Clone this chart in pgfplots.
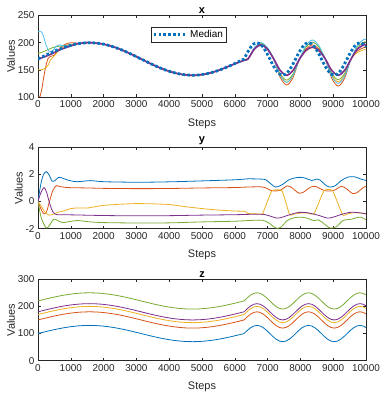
\documentclass[border=0pt]{standalone}
\usepackage{fontspec}
\setmainfont{Liberation Sans}
\usepackage{pgfplots}
\pgfplotsset{compat=1.18}
\usepackage{pgfplotstable}

\definecolor{c1}{rgb}{0,0.447,0.741}
\definecolor{c2}{rgb}{0.85,0.325,0.098}
\definecolor{c3}{rgb}{0.929,0.694,0.125}
\definecolor{c4}{rgb}{0.494,0.184,0.556}
\definecolor{c5}{rgb}{0.466,0.674,0.188}
\definecolor{c6}{rgb}{0.301,0.745,0.933}
\definecolor{axgray}{rgb}{0.15,0.15,0.15}

% z signals (also: z3 column equals the x median)
\pgfplotstableread{
t z1 z2 z3 z4 z5
0 100 150 170 180 220
196 105.9 155.9 175.9 185.9 225.9
393 111.5 161.5 181.5 191.5 231.5
589 116.7 166.7 186.7 196.7 236.7
785 121.2 171.2 191.2 201.2 241.2
982 124.9 174.9 194.9 204.9 244.9
1178 127.7 177.7 197.7 207.7 247.7
1374 129.4 179.4 199.4 209.4 249.4
1571 130 180 200 210 250
1767 129.4 179.4 199.4 209.4 249.4
1963 127.7 177.7 197.7 207.7 247.7
2160 124.9 174.9 194.9 204.9 244.9
2356 121.2 171.2 191.2 201.2 241.2
2553 116.7 166.7 186.7 196.7 236.7
2749 111.5 161.5 181.5 191.5 231.5
2945 105.9 155.9 175.9 185.9 225.9
3142 100 150 170 180 220
3338 94.1 144.1 164.1 174.1 214.1
3534 88.5 138.5 158.5 168.5 208.5
3731 83.3 133.3 153.3 163.3 203.3
3927 78.8 128.8 148.8 158.8 198.8
4123 75.1 125.1 145.1 155.1 195.1
4320 72.3 122.3 142.3 152.3 192.3
4516 70.6 120.6 140.6 150.6 190.6
4712 70 120 140 150 190
4909 70.6 120.6 140.6 150.6 190.6
5105 72.3 122.3 142.3 152.3 192.3
5301 75.1 125.1 145.1 155.1 195.1
5498 78.8 128.8 148.8 158.8 198.8
5694 83.3 133.3 153.3 163.3 203.3
5890 88.5 138.5 158.5 168.5 208.5
6087 94.1 144.1 164.1 174.1 214.1
6283 100 150 170 180 220
6381 111.5 161.5 181.5 191.5 231.5
6479 121.2 171.2 191.2 201.2 241.2
6578 127.7 177.7 197.7 207.7 247.7
6676 130 180 200 210 250
6774 127.7 177.7 197.7 207.7 247.7
6872 121.2 171.2 191.2 201.2 241.2
6970 111.5 161.5 181.5 191.5 231.5
7068 100 150 170 180 220
7167 88.5 138.5 158.5 168.5 208.5
7265 78.8 128.8 148.8 158.8 198.8
7363 72.3 122.3 142.3 152.3 192.3
7461 70 120 140 150 190
7559 72.3 122.3 142.3 152.3 192.3
7657 78.8 128.8 148.8 158.8 198.8
7756 88.5 138.5 158.5 168.5 208.5
7854 100 150 170 180 220
7952 111.5 161.5 181.5 191.5 231.5
8050 121.2 171.2 191.2 201.2 241.2
8148 127.7 177.7 197.7 207.7 247.7
8246 130 180 200 210 250
8345 127.7 177.7 197.7 207.7 247.7
8443 121.2 171.2 191.2 201.2 241.2
8541 111.5 161.5 181.5 191.5 231.5
8639 100 150 170 180 220
8737 88.5 138.5 158.5 168.5 208.5
8835 78.8 128.8 148.8 158.8 198.8
8934 72.3 122.3 142.3 152.3 192.3
9032 70 120 140 150 190
9130 72.3 122.3 142.3 152.3 192.3
9228 78.8 128.8 148.8 158.8 198.8
9326 88.5 138.5 158.5 168.5 208.5
9424 100 150 170 180 220
9523 111.5 161.5 181.5 191.5 231.5
9621 121.2 171.2 191.2 201.2 241.2
9719 127.7 177.7 197.7 207.7 247.7
9817 130 180 200 210 250
9915 127.7 177.7 197.7 207.7 247.7
10000 122.3 172.3 192.3 202.3 242.3
}\ztab

\pgfplotsset{mstyle/.style={
  width=328bp, height=81.5bp, scale only axis,
  xmin=0, xmax=10000,
  xtick={0,1000,2000,3000,4000,5000,6000,7000,8000,9000,10000},
  scaled x ticks=false, scaled y ticks=false,
  /pgf/number format/1000 sep={},
  /pgf/number format/assume math mode=true,
  tick label style={font=\fontsize{10}{12}\selectfont, color=axgray},
  label style={font=\fontsize{11}{13}\selectfont, color=axgray},
  xlabel style={yshift=-4bp},
  ylabel style={yshift=-4bp},
  title style={font=\fontsize{11}{13}\selectfont\bfseries, color=black, yshift=-7.5bp},
  axis line style={axgray, line width=0.5bp},
  tick style={axgray, line width=0.5bp},
  major tick length=3bp,
  xlabel={Steps}, ylabel={Values},
  every axis plot/.append style={line width=0.8bp},
  axis background/.style={fill=white},
}}

\begin{document}
\begin{tikzpicture}
\path[use as bounding box] (0bp,0bp) rectangle (389bp,396bp);

% ---------------- x ----------------
\begin{axis}[mstyle, at={(38bp,299bp)}, anchor=south west,
  title={x}, ymin=100, ymax=250, ytick={100,150,200,250},
  legend style={at={(0.345,0.857)}, anchor=north west, draw=axgray,
    line width=0.5bp, font=\fontsize{10}{12}\selectfont, text=black,
    inner xsep=1bp, inner ysep=1bp},
  legend image code/.code={\draw[#1] (0bp,0bp) -- (33bp,0bp);}]
\addplot[c2, smooth, forget plot] coordinates {
(0,100) (60,101) (120,116) (200,145) (300,170) (400,175) (500,177) (600,185) (800,196) (1000,200) (1200,199) (1374,199.4) (1571,200)
(1963,197.7) (2356,191.2) (2749,181.5) (3142,170) (3534,158.3) (3927,148.4) (4320,141.6) (4712,139) (5105,141.6) (5498,148.4) (5890,158.3) (6283,167.5)
(6403,171) (6599,188.4) (6796,196) (6992,188.4) (7188,170) (7385,136.1) (7581,122) (7777,136.1) (7974,170) (8170,188.4) (8366,196) (8563,188.4) (8759,170) (8955,134.6) (9152,120) (9348,134.6) (9545,170) (9741,184.8) (9937,191) (10000,190.5)};
\addplot[c3, smooth, forget plot] coordinates {
(0,150) (100,150) (200,152) (300,158) (400,170) (500,176) (600,183) (700,190) (850,195) (1000,197) (1200,198) (1374,199.4) (1571,200)
(1963,197.7) (2356,191.2) (2749,181.5) (3142,170) (3534,158.5) (3927,148.8) (4320,142.3) (4712,140) (5105,142.3) (5498,148.8) (5890,158.5) (6283,167.5)
(6403,170) (6599,189.1) (6796,197) (6992,189.1) (7188,170) (7385,139.6) (7581,127) (7777,139.6) (7974,170) (8170,184.8) (8366,191) (8563,184.8) (8759,170) (8955,140.3) (9152,128) (9348,140.3) (9545,170) (9741,182) (9937,187) (10000,186.5)};
\addplot[c5, smooth, forget plot] coordinates {
(0,180) (150,183) (300,187) (450,191) (600,193) (800,194.5) (1000,196) (1200,198) (1374,199.4) (1571,200)
(1963,197.7) (2356,191.2) (2749,181.5) (3142,170) (3534,158.5) (3927,148.8) (4320,142.3) (4712,140) (5105,142.3) (5498,148.8) (5890,158.5) (6283,167.5)
(6403,170) (6599,190.5) (6796,199) (6992,190.5) (7188,170) (7385,142.4) (7581,131) (7777,142.4) (7974,170) (8170,191.9) (8366,201) (8563,191.9) (8759,170) (8955,143.1) (9152,132) (9348,143.1) (9545,170) (9741,191.9) (9937,201) (10000,200.5)};
\addplot[c6, smooth, forget plot] coordinates {
(0,220) (80,221) (150,215) (250,195) (350,183) (450,185) (550,193) (650,196) (800,194) (1000,195) (1200,198) (1374,200) (1571,201)
(1963,198.2) (2356,191.6) (2749,181.8) (3142,170.2) (3534,158.7) (3927,149) (4320,142.5) (4712,140.2) (5105,142.5) (5498,149) (5890,158.7) (6283,167.8)
(6403,170) (6599,191.2) (6796,200) (6992,191.2) (7188,170) (7385,139.6) (7581,127) (7777,139.6) (7974,170) (8170,194.7) (8366,205) (8563,194.7) (8759,170) (8955,138.2) (9152,125) (9348,138.2) (9545,170) (9741,195.5) (9937,206) (10000,205.5)};
\addplot[c4, smooth, line width=1.6bp, forget plot] coordinates {
(0,170) (200,174) (400,179) (600,185) (800,190) (1000,194) (1178,197.7) (1374,199.4) (1571,200)
(1963,197.7) (2356,191.2) (2749,181.5) (3142,170) (3534,158.5) (3927,148.8) (4320,142.3) (4712,140) (5105,142.3) (5498,148.8) (5890,158.5) (6283,167.5)
(6403,170) (6599,188.4) (6796,196) (6992,188.4) (7188,170) (7385,148.8) (7581,140) (7777,148.8) (7974,170) (8170,185.6) (8366,192) (8563,185.6) (8759,170) (8955,148.8) (9152,140) (9348,148.8) (9545,170) (9741,188.4) (9937,196) (10000,195.5)};
\addplot[c1, line width=2.8bp, dash pattern=on 2.6bp off 2.2bp] table[x=t, y=z3] {\ztab};
\addlegendentry{Median}
\end{axis}

% ---------------- y ----------------
\begin{axis}[mstyle, at={(38bp,167.3bp)}, anchor=south west,
  title={y}, ymin=-2, ymax=4, ytick={-2,0,2,4}]
\addplot[c1, smooth] coordinates {
(0,0) (80,1.2) (160,1.95) (250,2.2) (340,1.95) (430,1.5) (520,1.55) (630,1.78) (750,1.72) (950,1.55) (1200,1.46) (1600,1.54) (2000,1.46) (3000,1.42) (4000,1.45) (5000,1.52) (6000,1.6) (6400,1.67) (6800,1.65) (6950,1.6) (7100,1.3) (7250,1.06) (7450,1.25) (7650,1.6) (7850,1.75) (8000,1.78) (8150,1.72) (8350,1.55) (8500,1.66) (8600,1.58) (8750,1.25) (8880,1.07) (9050,1.15) (9250,1.55) (9450,1.8) (9650,1.82) (9850,1.65) (10000,1.55)};
\addplot[c2, smooth] coordinates {
(0,0) (100,-0.6) (180,-0.9) (260,-0.75) (350,0) (450,0.8) (550,1.15) (650,1.12) (800,1.05) (1000,1.02) (1500,1.0) (2000,0.97) (3000,0.95) (4000,0.96) (5000,1.0) (6000,1.03) (6400,1.07) (6800,1.08) (6950,1.0) (7100,0.82) (7250,0.78) (7400,0.85) (7600,1.15) (7750,1.0) (7950,0.62) (8100,0.7) (8300,1.05) (8450,1.12) (8600,0.95) (8750,0.8) (8900,0.78) (9050,0.85) (9250,1.12) (9400,0.95) (9600,0.58) (9750,0.7) (9900,1.0) (10000,1.13)};
\addplot[c3, smooth, tension=0.25] coordinates {
(0,0) (100,-0.35) (200,-0.75) (330,-1.0) (450,-0.95) (600,-0.8) (800,-0.68) (1000,-0.52) (1200,-0.47) (1500,-0.48) (1700,-0.4) (2000,-0.28) (2500,-0.2) (3000,-0.15) (3500,-0.17) (4000,-0.22) (4500,-0.38) (5000,-0.52) (5500,-0.63) (6000,-0.7) (6300,-0.72) (6400,-0.88) (6800,-0.92) (6850,-0.9) (7130,0.78) (7440,0.78) (7670,-0.98) (7800,-0.93) (8000,-0.85) (8200,-0.85) (8420,-0.88) (8720,0.8) (8980,0.8) (9290,-0.98) (9450,-0.9) (9650,-0.82) (9850,-0.85) (10000,-0.92)};
\addplot[c4, smooth] coordinates {
(0,0) (80,0.6) (180,1.02) (260,0.7) (350,-0.1) (450,-0.75) (550,-0.95) (700,-0.98) (1000,-0.98) (2000,-1.03) (3000,-1.05) (4000,-1.04) (5000,-1.0) (6000,-0.97) (6500,-0.94) (6900,-0.95) (7050,-1.05) (7280,-1.22) (7450,-1.15) (7700,-0.95) (7950,-0.8) (8200,-0.82) (8450,-0.95) (8600,-1.05) (8830,-1.22) (9000,-1.15) (9250,-0.95) (9500,-0.8) (9700,-0.8) (10000,-0.9)};
\addplot[c5, smooth] coordinates {
(0,0) (100,-1.2) (250,-1.95) (350,-1.75) (480,-1.3) (600,-1.4) (750,-1.55) (950,-1.48) (1200,-1.4) (1600,-1.5) (2000,-1.55) (3000,-1.58) (4000,-1.57) (5000,-1.5) (6000,-1.45) (6400,-1.4) (6850,-1.38) (7050,-1.6) (7250,-1.95) (7400,-1.9) (7600,-1.4) (7800,-1.2) (8000,-1.15) (8200,-1.22) (8400,-1.4) (8550,-1.35) (8700,-1.6) (8900,-1.95) (9100,-1.85) (9300,-1.4) (9550,-1.3) (9700,-1.2) (9850,-1.15) (10000,-1.35)};
\end{axis}

% ---------------- z ----------------
\begin{axis}[mstyle, at={(38bp,35.3bp)}, anchor=south west,
  title={z}, ymin=0, ymax=300, ytick={0,100,200,300}]
\addplot[c1] table[x=t, y=z1] {\ztab};
\addplot[c2] table[x=t, y=z2] {\ztab};
\addplot[c3] table[x=t, y=z3] {\ztab};
\addplot[c4] table[x=t, y=z4] {\ztab};
\addplot[c5] table[x=t, y=z5] {\ztab};
\end{axis}
\end{tikzpicture}
\end{document}
